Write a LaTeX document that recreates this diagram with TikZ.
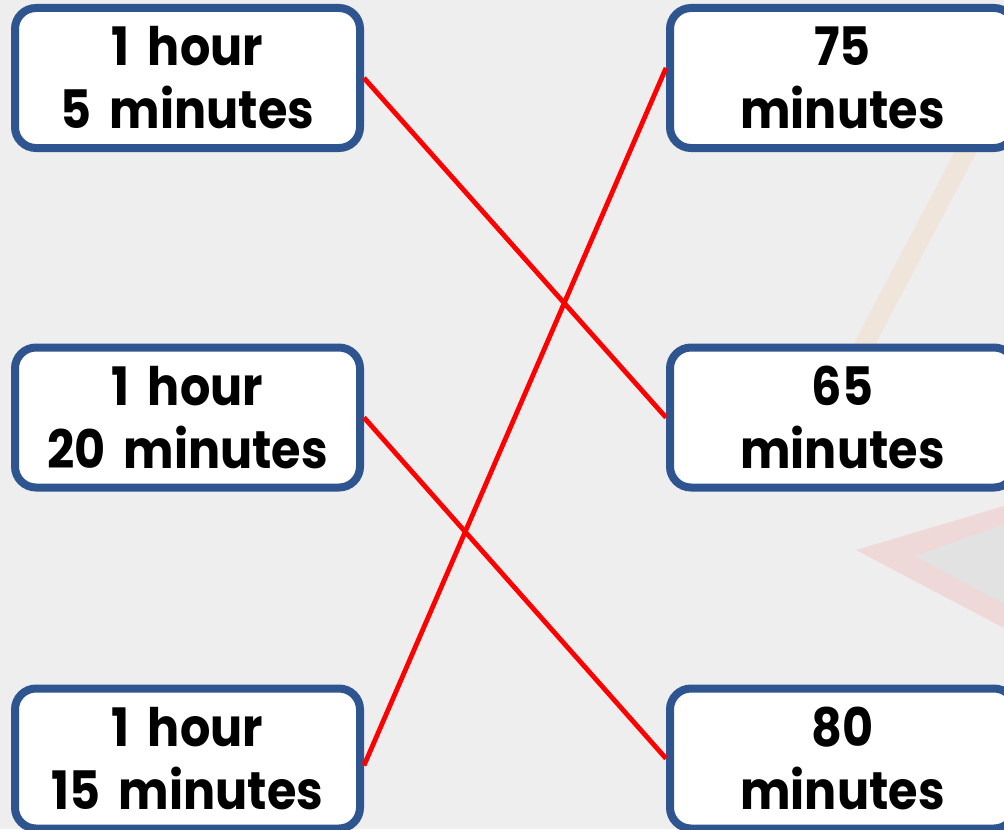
\documentclass[tikz,border=0pt]{standalone}
\usepackage{fontspec}
\setmainfont{Poppins}[FakeStretch=0.9, WordSpace=1.8]
\usetikzlibrary{positioning}

\definecolor{boxblue}{RGB}{47,85,145}
\definecolor{bggray}{RGB}{238,238,238}
\definecolor{linered}{RGB}{255,0,0}

\tikzset{
  timebox/.style={draw=boxblue, line width=4pt, fill=white, rounded corners=10.5pt,
    minimum width=172.5pt, minimum height=70pt, inner sep=0pt, align=center,
    font=\fontsize{26.5}{31.5}\selectfont\bfseries},
  match/.style={draw=linered, line width=2.4pt}
}

\begin{document}
\begin{tikzpicture}[x=0.5pt, y=-0.5pt]
				\useasboundingbox (0,0) rectangle (1004,829);
				\clip (0,0) rectangle (1004,829);
				\fill[bggray] (0,0) rectangle (1004,829);

				% faint pictures behind
				\fill[orange!8!bggray] (853,345) -- (875,345) -- (1004,100) -- (1004,58) -- cycle;
				\fill[red!9!bggray] (856,550) -- (1004,506) -- (1004,628) -- cycle;
				\fill[black!5!bggray] (915,556) -- (1004,524) -- (1004,604) -- cycle;

				% left column
				\node[timebox] (h1m5)  at (187.5,78)    {1 hour\\5 minutes};
				\node[timebox] (h1m20) at (187.5,417.5) {1 hour\\20 minutes};
				\node[timebox] (h1m15) at (187.5,758.5) {1 hour\\15 minutes};

				% right column
				\node[timebox] (m75) at (842.5,78)    {75\\minutes};
				\node[timebox] (m65) at (842.5,417.5) {65\\minutes};
				\node[timebox] (m80) at (842.5,758.5) {80\\minutes};

				\draw[match] (h1m5.east) -- (m65.west);
				\draw[match] ([yshift=-3.5pt]h1m15.east) -- ([yshift=5pt]m75.west);
				\draw[match] (h1m20.east) -- (m80.west);
\end{tikzpicture}
\end{document}
